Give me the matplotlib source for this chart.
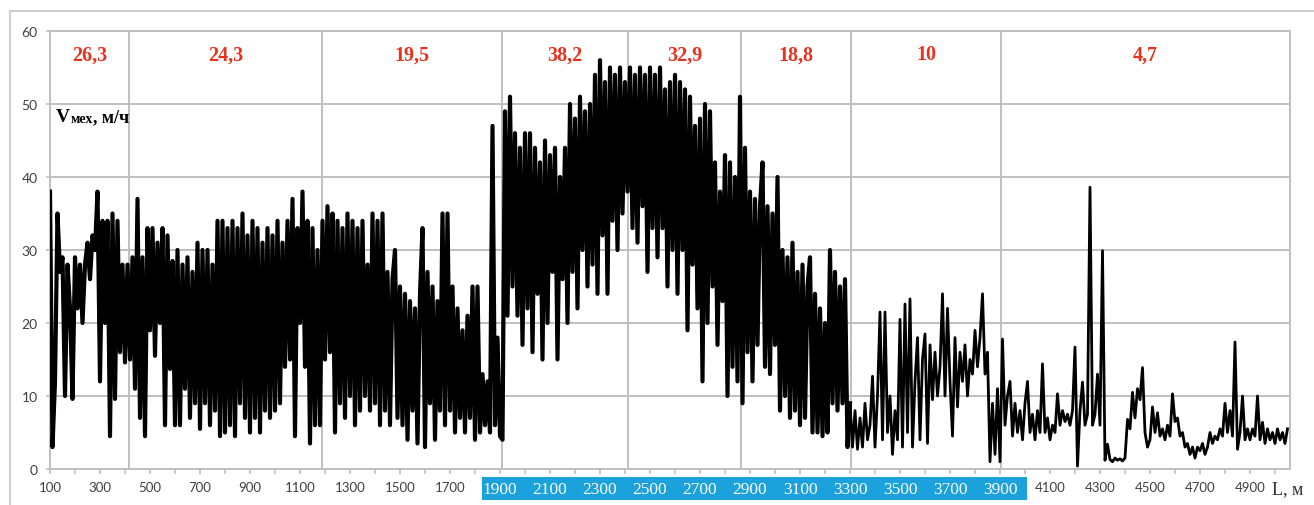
# -*- coding: utf-8 -*-
import numpy as np
import matplotlib.pyplot as plt
from matplotlib.patches import Rectangle
from matplotlib.lines import Line2D
from matplotlib.ticker import MultipleLocator

# Vmex, m/h, one reading every 10 m from L = 100 m
speed_100_990 = [
    38, 3, 12, 35, 27, 29, 10, 28, 22, 9.6,
    29, 22, 28, 20, 28, 31, 26, 32, 30, 38,
    12, 34, 20, 34, 4.5, 35, 9.6, 34, 16, 28,
    14.6, 28, 15, 29, 11, 37, 7, 29, 4.5, 33,
    19, 33, 15.5, 31, 20, 33, 6, 32, 13.7, 28.5,
    6, 30, 6, 28, 11, 29, 7, 27, 9, 31,
    5.5, 30, 9, 30, 6, 28, 8, 34, 4.5, 34,
    5, 33, 6, 34, 4.5, 33, 9, 35, 7, 32,
    5, 34, 7, 33, 5, 31, 8, 33, 7, 32,
]
speed_1000_1990 = [
    8, 34, 9, 31, 14, 34, 15, 37, 4.5, 33,
    20, 38, 14, 34, 3.5, 33, 6, 30, 6, 34,
    15, 36, 16, 35, 5, 34, 9, 33, 7, 35,
    10, 34, 6, 33, 8, 34, 10, 28, 8, 35,
    9, 34, 6, 35, 8, 27, 6, 26, 30, 7,
    25, 6, 24, 4, 23, 8, 22, 3.5, 24, 33,
    3, 27, 9, 25, 4, 23, 8, 35, 6, 35,
    8, 25, 5, 22, 7, 19, 5, 21, 7, 25,
    4, 25, 5, 13, 6, 12, 5, 47, 6, 18,
    4.5, 4, 49, 21, 51, 25, 46, 21, 44, 17,
]
speed_2000_2990 = [
    46, 22, 46, 16, 44, 24, 42, 15, 45, 20,
    43, 27, 44, 15, 40, 26, 44, 20, 50, 27,
    48, 22, 51, 30, 49, 25, 50, 28, 54, 24,
    56, 32, 53, 24, 55, 34, 54, 30, 55, 35,
    53, 38, 55, 33, 54, 31, 55, 36, 54, 27,
    55, 33, 54, 29, 55, 33, 52, 25, 53, 30,
    54, 24, 53, 30, 52, 19, 51, 28, 47, 22,
    48, 12, 50, 20, 49, 25, 42, 17, 38, 23,
    43, 10, 42, 14, 40, 12, 51, 9, 44, 16,
    38, 12, 37, 17, 36, 42, 14, 36, 13, 35,
]
speed_3000_3990 = [
    17, 40, 8, 30, 10, 29, 7, 31, 8, 27,
    6, 28, 7, 25, 29, 5, 24, 5, 22, 4.5,
    20, 5, 30, 9, 27, 8, 25, 9, 26, 3,
    9, 3, 8, 2.7, 7, 3, 9, 4, 6, 12.7,
    3, 10, 21.5, 4, 21.5, 5, 10, 2, 8, 4,
    20.5, 3, 22.6, 5, 23.3, 3, 12, 18, 4, 15,
    18.5, 3.5, 17, 9.5, 16, 10, 14, 24, 10, 22,
    12, 4.5, 18, 8.5, 16, 12, 17, 10, 15, 13,
    19, 14, 18, 24, 13, 16, 1, 9, 2, 11,
    1, 17.8, 6, 10, 12, 4.5, 9, 5, 8, 4,
]
speed_4000_5050 = [
    9, 12, 5, 7.5, 4, 8, 5, 14.4, 5, 7,
    4, 6, 5, 10.3, 6, 8, 6.5, 7.5, 6, 8,
    16.7, 0.4, 8, 11.9, 6, 7.5, 38.6, 6, 7.5, 13,
    6, 29.9, 1.2, 3.4, 1.3, 1.0, 1.5, 1.2, 1.4, 1.1,
    1.5, 6.8, 5.5, 10.5, 7, 11, 9.5, 13.9, 5, 3,
    4, 8.5, 5, 7.7, 4.5, 5.5, 4, 6, 4.5, 10.3,
    6.5, 7, 4.5, 5, 3, 3.5, 2, 3, 1.5, 3,
    2.5, 3.5, 2, 3, 5, 3.5, 4.5, 4, 5.5, 4.5,
    9, 5, 8, 4.5, 17.4, 2.7, 5, 10, 4, 5.5,
    4, 5.5, 4.5, 10, 4, 6.4, 3.5, 5.5, 4, 5,
    3.5, 5.5, 4, 5, 3.5, 5.5,
]

# section borders along the route (m) and the mean speed written in each one
section_edges = [100, 416, 1187, 1907, 2412, 2864, 3304, 3903, 5060]
section_avg = ["26,3", "24,3", "19,5", "38,2", "32,9", "18,8", "10", "4,7"]

# labelled x ticks; the 1900..3900 ones sit in the blue band
tick_labels = [100, 300, 500, 700, 900, 1100, 1300, 1500, 1700, 1900, 2100,
               2300, 2500, 2700, 2900, 3100, 3300, 3500, 3700, 3900, 4100,
               4300, 4500, 4700, 4900]
blue_labels = [1900, 2100, 2300, 2500, 2700, 2900, 3100, 3300, 3500, 3700, 3900]
blue_band = (1828, 4008)

speed = np.concatenate([speed_100_990, speed_1000_1990, speed_2000_2990,
                        speed_3000_3990, speed_4000_5050])
dist = 100 + 10 * np.arange(len(speed))

W, H = 1314, 506
fig = plt.figure(figsize=(W / 100, H / 100), dpi=100)
ax = fig.add_axes([50 / W, 36 / H, 1240 / W, 438 / H])

grid_c = '#BFBFBF'

# signal: thin everywhere, heavier where the record is a dense band
ax.plot(dist, speed, color='black', lw=2.0, zorder=3)
dense = dist <= 3300
ax.plot(dist[dense], speed[dense], color='black', lw=3.0, zorder=3)

ax.set_xlim(section_edges[0], section_edges[-1])
ax.set_ylim(0, 60)

# grid and section borders
ax.set_axisbelow(True)
ax.yaxis.grid(True, color=grid_c, lw=1.4)
for x in section_edges[1:-1]:
    ax.axvline(x, color=grid_c, lw=1.4, zorder=1.2)
for sp in ax.spines.values():
    sp.set_color(grid_c)
    sp.set_linewidth(1.4)

# section averages
for i, lab in enumerate(section_avg):
    xm = (section_edges[i] + section_edges[i + 1]) / 2
    ax.text(xm, 56.8, lab, color='#E8321E', fontsize=14.5, fontweight='bold',
            family='Liberation Serif', ha='center', va='center')

# y axis
ax.set_yticks([0, 10, 20, 30, 40, 50, 60])
ax.tick_params(axis='y', length=3, width=1.2, color=grid_c, pad=6,
               labelsize=10, labelcolor='#404040')
for lab in ax.get_yticklabels():
    lab.set_family('Lato')

# x axis
ax.set_xticks(tick_labels)
ax.set_xticklabels([str(v) for v in tick_labels])
ax.xaxis.set_minor_locator(MultipleLocator(100))
ax.tick_params(axis='x', which='both', length=3.5, width=1.2, color=grid_c,
               pad=5, labelsize=9.5, labelcolor='#404040')
for lab, v in zip(ax.get_xticklabels(), tick_labels):
    if v in blue_labels:
        lab.set_family('Liberation Serif')
        lab.set_color('white')
        lab.set_fontsize(12.5)
    else:
        lab.set_family('Lato')

# blue band behind the 1900..3900 labels (axis sits at zorder 0.5)
ax.add_patch(Rectangle((blue_band[0], -0.0708), blue_band[1] - blue_band[0], 0.0525,
                       transform=ax.get_xaxis_transform(), clip_on=False,
                       facecolor='#1BA1DB', edgecolor='none', zorder=0.1))

# axis names
v = ax.text(0.005, 0.795, "V", transform=ax.transAxes, fontsize=14, fontweight='bold',
            family='Liberation Serif', ha='left', va='baseline')
m = ax.annotate("мех", xy=(1, 0), xycoords=v, fontsize=10, fontweight='bold',
                family='Liberation Serif', ha='left', va='bottom')
ax.annotate(", м/ч", xy=(1, 0), xycoords=m, fontsize=13, fontweight='bold',
            family='Liberation Serif', ha='left', va='bottom')

fig.text(1272 / W, 1 - 490 / H, "L, м", fontsize=13, family='Liberation Serif',
         color='#303030', ha='left', va='center')

# light frame around the chart
fc = '#CFCFCF'
fig.add_artist(Line2D([10 / W, 1], [1 - 12 / H, 1 - 12 / H], color=fc, lw=1.5,
                      transform=fig.transFigure))
fig.add_artist(Line2D([10 / W, 10 / W], [0, 1 - 12 / H], color=fc, lw=1.5,
                      transform=fig.transFigure))

fig.savefig('out.png', dpi=100)
